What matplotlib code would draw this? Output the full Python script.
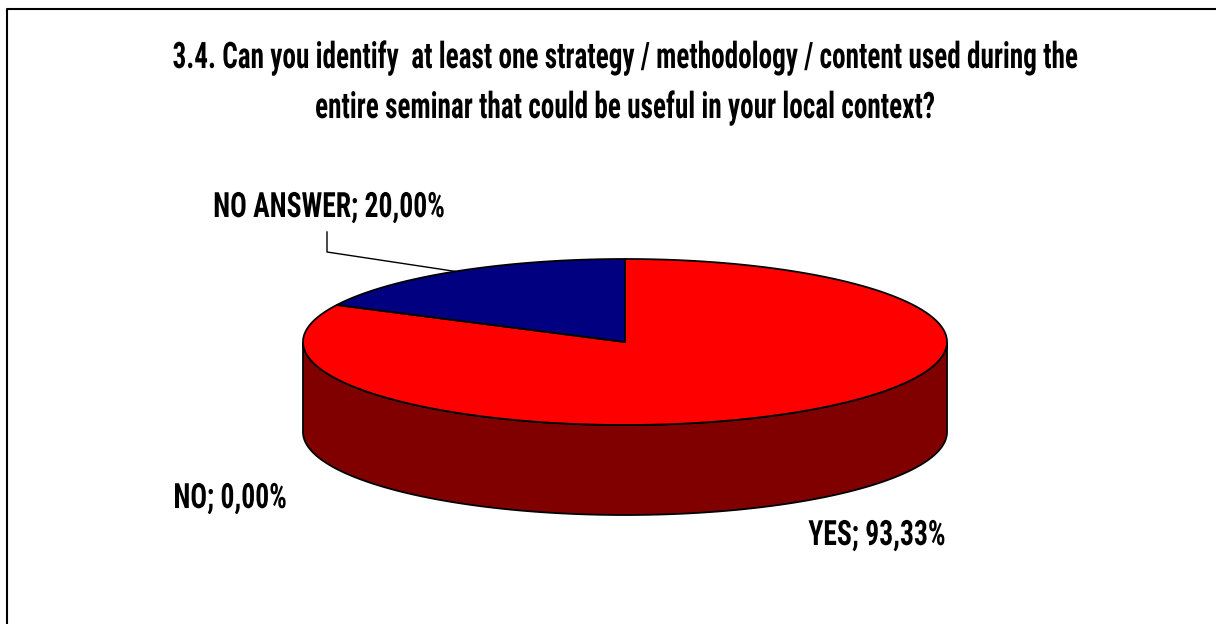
import matplotlib
matplotlib.use("Agg")
import matplotlib.pyplot as plt
from matplotlib import font_manager, patheffects
from matplotlib.patches import Polygon
from matplotlib.transforms import Affine2D
import numpy as np

TITLE = ["3.4. Can you identify  at least one strategy / methodology / content used during the",
         "entire seminar that could be useful in your local context?"]
CATEGORIES = ["YES", "NO", "NO ANSWER"]
VALUES = [93.33, 0.00, 20.00]
TOP_COLORS = ["#FF0000", "#FFFF99", "#000080"]
SIDE_COLORS = ["#800000", "#808040", "#000040"]

# pie geometry, in pixels of the 1216x624 canvas
CX, CY = 625, 342
RX, RY = 322, 83
DEPTH = 90

installed = {f.name for f in font_manager.fontManager.ttflist}
FONT = next(f for f in ["Roboto Condensed", "Liberation Sans Narrow",
                        "DejaVu Sans Condensed", "DejaVu Sans"] if f in installed)


class TallText(patheffects.AbstractPathEffect):
    """Stretch glyphs vertically about the baseline (narrow display look)."""

    def __init__(self, stretch):
        super().__init__()
        self.stretch = stretch

    def draw_path(self, renderer, gc, tpath, affine, rgbFace=None):
        base = affine.transform((0, 0))[1]
        tall = Affine2D().translate(0, -base).scale(1, self.stretch).translate(0, base)
        renderer.draw_path(gc, tpath, affine + tall, rgbFace)


def rim(theta, drop=0.0):
    t = np.radians(theta)
    return np.column_stack([CX + RX * np.cos(t), CY - RY * np.sin(t) + drop])


def main():
    fig = plt.figure(figsize=(12.16, 6.24), dpi=100)
    ax = fig.add_axes([0, 0, 1, 1])
    ax.set_xlim(0, 1216)
    ax.set_ylim(624, 0)
    ax.axis("off")

    # outer chart frame (right and bottom edges fall outside the canvas)
    ax.plot([7, 7, 1216], [624, 9, 9], color="black", lw=1.5, clip_on=False)

    fractions = np.array(VALUES) / sum(VALUES)
    spans = []
    start = 90.0
    for f in fractions:
        end = start - 360 * f
        spans.append((end, start))
        start = end

    # front walls
    for (a, b), color in zip(spans, SIDE_COLORS):
        for k in (-1, 0, 1):
            lo, hi = max(a, -180 + 360 * k), min(b, 360 * k)
            if hi > lo:
                th = np.linspace(lo, hi, 300)
                pts = np.vstack([rim(th), rim(th[::-1], DEPTH)])
                ax.add_patch(Polygon(pts, closed=True, fc=color, ec="black", lw=1.3))

    # top faces
    for (a, b), color in zip(spans, TOP_COLORS):
        if b - a <= 0:
            continue
        th = np.linspace(a, b, 400)
        pts = np.vstack([[CX, CY], rim(th)])
        ax.add_patch(Polygon(pts, closed=True, fc=color, ec="black", lw=1.3))

    label_fx = [TallText(1.26)]
    title_fx = [TallText(1.34)]
    txt = dict(family=FONT, weight="bold", color="black", ha="center", va="baseline")

    ax.text(625, 68, TITLE[0], fontsize=19.6, path_effects=title_fx, **txt)
    ax.text(625, 118, TITLE[1], fontsize=19.6, path_effects=title_fx, **txt)

    def label(i):
        return f"{CATEGORIES[i]}; {VALUES[i]:.2f}%".replace(".", ",")

    ax.text(877, 545, label(0), fontsize=19.9, path_effects=label_fx, **txt)
    ax.text(230, 508, label(1), fontsize=19.9, path_effects=label_fx, **txt)
    ax.text(329, 217, label(2), fontsize=19.9, path_effects=label_fx, **txt)

    # leader from the NO ANSWER label to the middle of its slice
    mid = rim([np.mean(spans[2])])[0]
    ax.plot([327, 327, mid[0]], [232, 252, mid[1]], color="black", lw=1)

    fig.savefig("out.png", dpi=100, facecolor="white")


if __name__ == "__main__":
    main()
